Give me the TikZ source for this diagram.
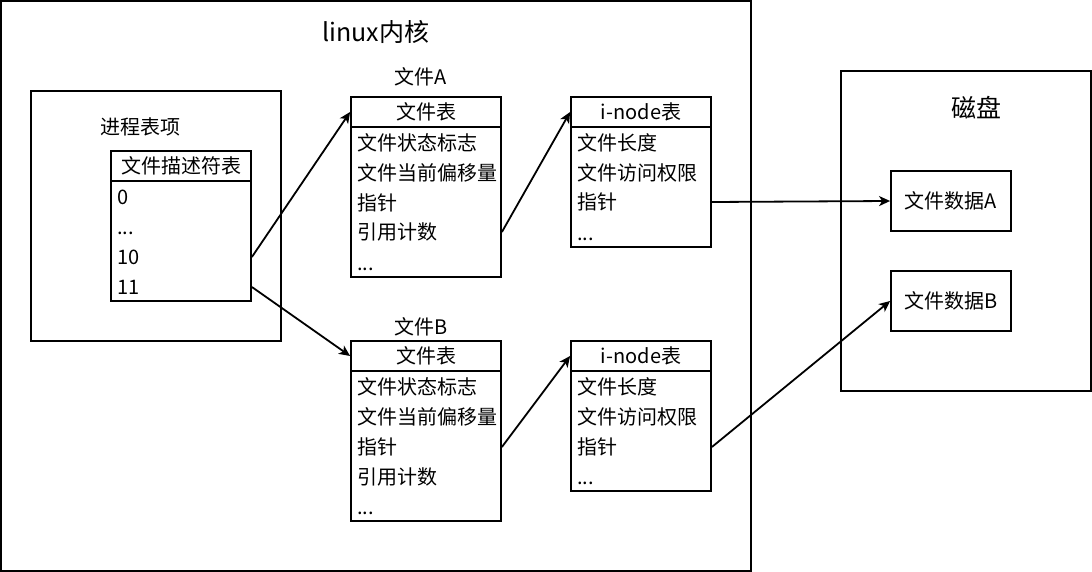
\documentclass[tikz,border=0pt]{standalone}
\usepackage{fontspec}
\setmainfont{Noto Sans CJK SC}
\usetikzlibrary{arrows.meta}

\begin{document}
\begin{tikzpicture}[
    x=1pt, y=-1pt,
    line width=1.8pt,
    every node/.style={font=\fontsize{20}{24}\selectfont, inner sep=0pt, text height=17pt, text depth=1.8pt},
    big/.style={font=\fontsize{25}{30}\selectfont, text height=21pt, text depth=2pt},
    header/.style={draw, minimum width=#1, minimum height=30pt},
    body/.style={draw, minimum width=#1},
    row/.style={text width=#1, align=left, inner xsep=6pt, minimum height=30pt},
    arrow/.style={-{Stealth[length=11pt, width=10pt, inset=3pt]}}
]
    \useasboundingbox (0,0) rectangle (1092,572);

    % Containers
    \node[draw, minimum width=750pt, minimum height=570pt] (kernel) at (376,286) {};
    \node[big] (kernelTitle) at (376,32) {linux内核};
    \node[draw, minimum width=250pt, minimum height=250pt] (proc) at (156,216) {};
    \node (procTitle) at (140,127) {进程表项};
    \node[draw, minimum width=250pt, minimum height=320pt] (disk) at (966,231) {};
    \node[big] (diskTitle) at (976,108) {磁盘};

    % File descriptor table
    \node[header=140pt] (fdHead) at (181,166) {文件描述符表};
    \node[body=140pt, minimum height=120pt] (fdBody) at (181,241) {};
    \node[row=128pt] (fd0) at (181,197) {0};
    \node[row=128pt] (fdDots) at (181,227) {...};
    \node[row=128pt] (fd10) at (181,257) {10};
    \node[row=128pt] (fd11) at (181,287) {11};

    % File A
    \node (fileALabel) at (421,77) {文件A};
    \node[header=150pt] (ftAHead) at (426,112) {文件表};
    \node[body=150pt, minimum height=150pt] (ftABody) at (426,202) {};
    \node[row=138pt] (ftA1) at (426,143) {文件状态标志};
    \node[row=138pt] (ftA2) at (426,173) {文件当前偏移量};
    \node[row=138pt] (ftA3) at (426,203) {指针};
    \node[row=138pt] (ftA4) at (426,232) {引用计数};
    \node[row=138pt] (ftA5) at (426,263) {...};

    % File B
    \node (fileBLabel) at (421,327) {文件B};
    \node[header=150pt] (ftBHead) at (426,356) {文件表};
    \node[body=150pt, minimum height=150pt] (ftBBody) at (426,446) {};
    \node[row=138pt] (ftB1) at (426,387) {文件状态标志};
    \node[row=138pt] (ftB2) at (426,417) {文件当前偏移量};
    \node[row=138pt] (ftB3) at (426,447) {指针};
    \node[row=138pt] (ftB4) at (426,477) {引用计数};
    \node[row=138pt] (ftB5) at (426,507) {...};

    % i-node A
    \node[header=140pt] (inAHead) at (641,112) {i-node表};
    \node[body=140pt, minimum height=120pt] (inABody) at (641,187) {};
    \node[row=128pt] (inA1) at (641,143) {文件长度};
    \node[row=128pt] (inA2) at (641,173) {文件访问权限};
    \node[row=128pt] (inA3) at (641,202) {指针};
    \node[row=128pt] (inA4) at (641,233) {...};

    % i-node B
    \node[header=140pt] (inBHead) at (641,356) {i-node表};
    \node[body=140pt, minimum height=120pt] (inBBody) at (641,431) {};
    \node[row=128pt] (inB1) at (641,387) {文件长度};
    \node[row=128pt] (inB2) at (641,417) {文件访问权限};
    \node[row=128pt] (inB3) at (641,447) {指针};
    \node[row=128pt] (inB4) at (641,477) {...};

    % Disk data
    \node[draw, minimum width=120pt, minimum height=60pt] (dataA) at (951,201) {文件数据A};
    \node[draw, minimum width=120pt, minimum height=60pt] (dataB) at (951,301) {文件数据B};

    % Arrows
    \draw[arrow] (fd10.east) -- (ftAHead.west);
    \draw[arrow] (fd11.east) -- (ftBHead.west);
    \draw[arrow] (ftA4.east) -- (inAHead.west);
    \draw[arrow] (ftB3.east) -- (inBHead.west);
    \draw[arrow] (inA3.east) -- (dataA.west);
    \draw[arrow] (inB3.east) -- (dataB.west);
\end{tikzpicture}
\end{document}
